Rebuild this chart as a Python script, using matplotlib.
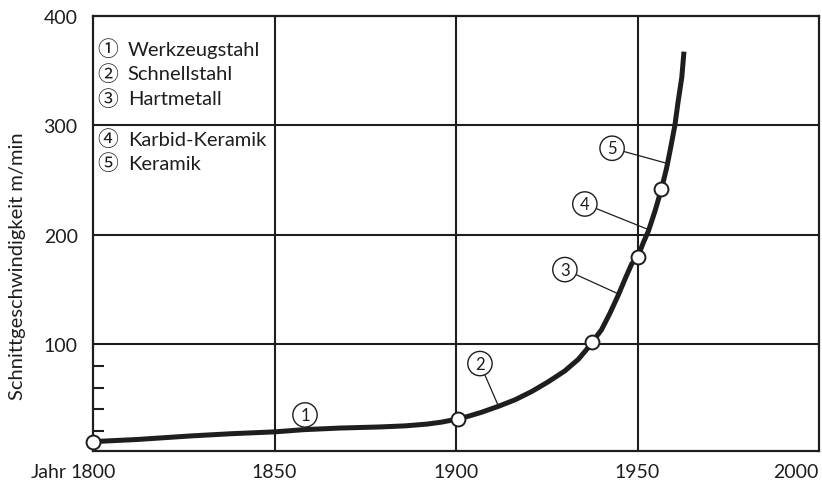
import matplotlib
matplotlib.use("Agg")
from matplotlib import pyplot as plt

# curve (year, cutting speed m/min)
jahr = [1800, 1802, 1812, 1827, 1838, 1850, 1858, 1868, 1879, 1886, 1892, 1896, 1900.6,
        1903.4, 1907.1, 1911.7, 1916.3, 1920.9, 1925.4, 1930, 1933.7, 1936.4, 1937.6,
        1940.1, 1942.4, 1944.7, 1946.6, 1948.4, 1950.1, 1951.6, 1953, 1954.8, 1956.6,
        1958, 1959.1, 1960.3, 1961.2, 1962.2, 1962.8]
speed = [10.5, 10.9, 12.5, 15.8, 17.8, 19.5, 21.5, 23, 24, 25, 26.6, 28.4, 31.4,
         33.8, 37.5, 42.9, 48.9, 56.5, 65.3, 75.3, 85.9, 96.5, 101.9,
         113, 128, 144.6, 159.6, 173.2, 179.7, 192.6, 203.2, 221.3, 241.7,
         260.6, 278.9, 300, 321.9, 343.8, 367.4]

# points marking the material steps
punkt_jahr = [1800, 1900.6, 1937.6, 1950.1, 1956.6]
punkt_speed = [10.5, 31.4, 101.9, 179.7, 241.7]

werkstoffe = ["Werkzeugstahl", "Schnellstahl", "Hartmetall", "Karbid-Keramik", "Keramik"]
kreis = ["①", "②", "③", "④", "⑤"]
nummern = ["1", "2", "3", "4", "5"]
# where each numbered circle points to on the curve
ziel_jahr = [1858.4, 1911.7, 1944.9, 1952.7, 1958.3]
ziel_speed = [21.5, 43, 145.5, 205, 265]
# where the numbered circles sit
label_jahr = [1858.4, 1906.6, 1930, 1935.5, 1943]
label_speed = [35, 82, 168, 228, 279]

x_ticks = [1800, 1850, 1900, 1950, 2000]
y_ticks = [100, 200, 300, 400]
y_minor = [20, 40, 60, 80]

plt.rcParams['font.family'] = ['Lato', 'DejaVu Sans']
ink = "#1e1e1e"

fig = plt.figure(figsize=(8.22, 4.85), dpi=100)
ax = fig.add_axes([93/822, 1 - 452/485, 726/822, 435/485])

ax.set_xlim(1800, 2000)
ax.set_ylim(2, 400)

for x in [1850, 1900, 1950]:
    ax.axvline(x, color=ink, lw=1.5, zorder=1)
for y in [100, 200, 300]:
    ax.axhline(y, color=ink, lw=1.5, zorder=1)

ax.plot(jahr, speed, color=ink, lw=3.6, solid_capstyle='butt',
        solid_joinstyle='round', zorder=3)
ax.plot(punkt_jahr, punkt_speed, 'o', ms=10, mfc='white', mec=ink, mew=1.4,
        zorder=4, clip_on=False)

for i in range(5):
    ax.annotate(nummern[i], xy=(ziel_jahr[i], ziel_speed[i]),
                xytext=(label_jahr[i], label_speed[i]),
                ha='center', va='center', fontsize=12, color=ink,
                bbox=dict(boxstyle='circle,pad=0.25', fc='white', ec=ink, lw=1.0),
                arrowprops=dict(arrowstyle='-', color=ink, lw=0.9,
                                shrinkA=0, shrinkB=0),
                zorder=5)

# legend block in the upper left cell
legend_y = [0.924, 0.867, 0.810, 0.717, 0.662]
for i in range(5):
    ax.text(0.006, legend_y[i], kreis[i], transform=ax.transAxes, fontsize=15,
            color=ink, va='center', ha='left',
            family=['Noto Sans CJK SC', 'DejaVu Sans'])
    ax.text(0.048, legend_y[i], werkstoffe[i], transform=ax.transAxes,
            fontsize=14.5, color=ink, va='center', ha='left')

for s in ax.spines.values():
    s.set_linewidth(1.6)
    s.set_color(ink)

ax.set_xticks(x_ticks)
ax.set_xticklabels([str(x) for x in x_ticks])
ax.get_xticklabels()[-1].set_ha('right')
ax.set_yticks(y_ticks)
ax.set_yticklabels([str(y) for y in y_ticks])
ax.set_yticks(y_minor, minor=True)
ax.tick_params(axis='both', which='major', length=0, labelsize=14, colors=ink)
ax.tick_params(axis='x', pad=9)
ax.tick_params(axis='y', pad=11)
ax.tick_params(axis='y', which='minor', direction='in', length=8, width=1.5, color=ink)
ax.tick_params(axis='x', which='minor', length=0)

ax.annotate("Jahr", xy=(1800, 0), xycoords=('data', 'axes fraction'),
            xytext=(-19, -9), textcoords='offset points', ha='right', va='top',
            fontsize=14, color=ink)

fig.text(18/822, 1 - 266/485, "Schnittgeschwindigkeit m/min", rotation=90,
         ha='center', va='center', fontsize=14.5, color=ink)

fig.savefig("out.png", dpi=100)
